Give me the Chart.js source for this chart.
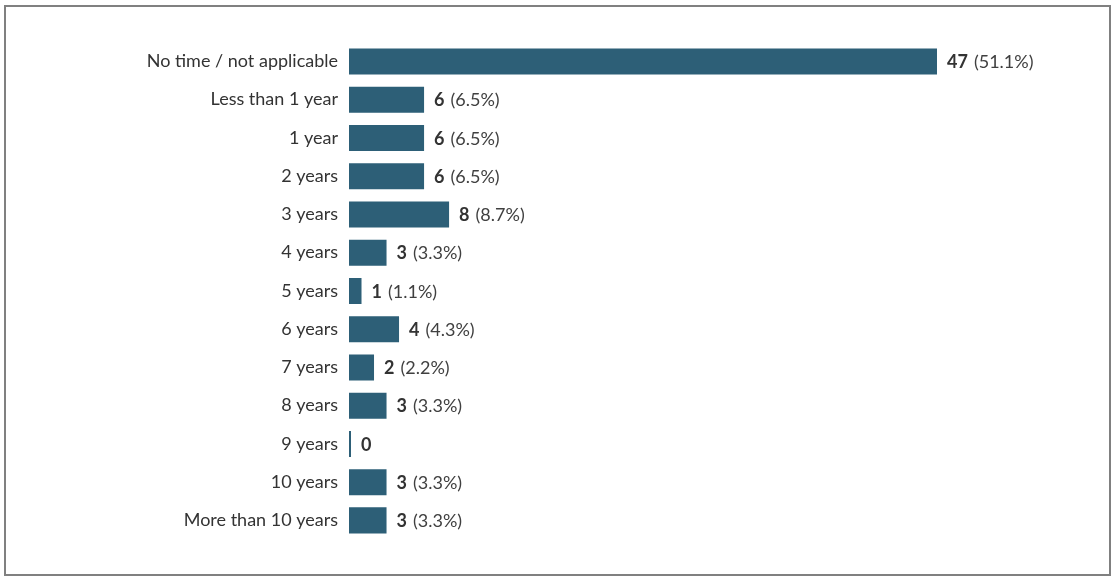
<!DOCTYPE html>
<html>
<head>
<meta charset="utf-8">
<script src="https://cdn.jsdelivr.net/npm/chart.js@4/dist/chart.umd.min.js"></script>
<style>
  html, body { margin: 0; padding: 0; background: #fff; }
  #wrap { position: relative; width: 1112px; height: 577px; }
  #frame { position: absolute; left: 4px; top: 5px; width: 1107px; height: 571px; box-sizing: border-box; border: 2px solid #808080; pointer-events: none; }
  canvas { position: absolute; left: 0; top: 0; }
</style>
</head>
<body>
<div id="wrap">
  <canvas id="c" width="1112" height="577"></canvas>
  <div id="frame"></div>
</div>
<script>
const categories = ["No time / not applicable", "Less than 1 year", "1 year", "2 years", "3 years", "4 years", "5 years", "6 years", "7 years", "8 years", "9 years", "10 years", "More than 10 years"];
const counts = [47, 6, 6, 6, 8, 3, 1, 4, 2, 3, 0, 3, 3];
const percentLabels = ["(51.1%)", "(6.5%)", "(6.5%)", "(6.5%)", "(8.7%)", "(3.3%)", "(1.1%)", "(4.3%)", "(2.2%)", "(3.3%)", "", "(3.3%)", "(3.3%)"];

const FONT = "Lato, 'Open Sans', sans-serif";

const valueLabels = {
  id: 'valueLabels',
  afterDatasetsDraw(chart) {
    const ctx = chart.ctx;
    const meta = chart.getDatasetMeta(0);
    ctx.save();
    ctx.textBaseline = 'middle';
    ctx.textAlign = 'left';
    meta.data.forEach((bar, i) => {
      const x = bar.x + 10;
      const y = bar.y + 1;
      ctx.font = "bold 18px " + FONT;
      ctx.fillStyle = '#333333';
      const s = String(counts[i]);
      ctx.fillText(s, x, y);
      const w = ctx.measureText(s).width;
      if (percentLabels[i]) {
        ctx.font = "18px " + FONT;
        ctx.fillStyle = '#404040';
        ctx.fillText(percentLabels[i], x + w + 6, y);
      }
    });
    ctx.restore();
  }
};

new Chart(document.getElementById('c'), {
  type: 'bar',
  data: {
    labels: categories,
    datasets: [{
      data: counts,
      backgroundColor: '#2d5f77',
      borderWidth: 0,
      barPercentage: 0.68,
      categoryPercentage: 1.0,
      minBarLength: 2
    }]
  },
  options: {
    indexAxis: 'y',
    responsive: false,
    animation: false,
    devicePixelRatio: 1,
    layout: { padding: { left: 0, right: 175, top: 42.3, bottom: 37.5 } },
    plugins: { legend: { display: false }, tooltip: { enabled: false } },
    scales: {
      x: { display: false, min: 0, max: 47 },
      y: {
        grid: { display: false, drawTicks: false },
        border: { display: false },
        ticks: { padding: 11, color: '#333333', font: { family: FONT, size: 18 } },
        afterFit(scale) { scale.width = 349; }
      }
    }
  },
  plugins: [valueLabels]
});
</script>
</body>
</html>
